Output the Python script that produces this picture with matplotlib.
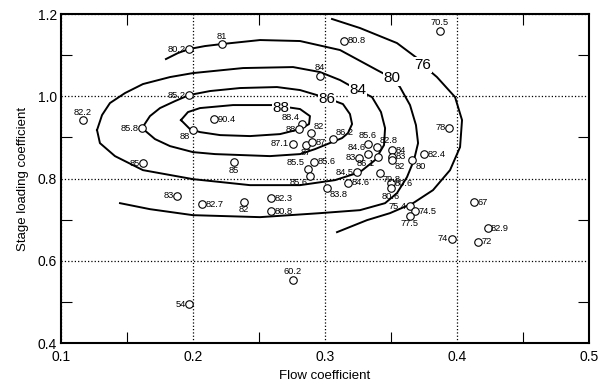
import numpy as np
import matplotlib
matplotlib.use('Agg')
import matplotlib.pyplot as plt
from matplotlib.ticker import MultipleLocator

plt.rcParams['font.family'] = ['Liberation Sans', 'DejaVu Sans']

# measured stage data: flow coefficient, stage loading coefficient, efficiency
flow = [0.1164, 0.197, 0.222, 0.296, 0.197, 0.216, 0.1616, 0.1998, 0.1624, 0.231,
        0.188, 0.2066, 0.2386, 0.259, 0.259, 0.2826, 0.2803, 0.2894, 0.3063, 0.2755,
        0.2856, 0.2899, 0.2869, 0.2919, 0.2886, 0.3245, 0.3177, 0.3013, 0.3323, 0.3328,
        0.3258, 0.3396, 0.340, 0.3417, 0.3505, 0.3505, 0.3508, 0.3662, 0.375, 0.394,
        0.3498, 0.3498, 0.3644, 0.3682, 0.3644, 0.396, 0.3146, 0.387, 0.4131, 0.4232,
        0.4157, 0.2755, 0.1972]
loading = [0.942, 1.114, 1.127, 1.050, 1.003, 0.944, 0.922, 0.918, 0.837, 0.839,
           0.758, 0.737, 0.743, 0.752, 0.721, 0.932, 0.920, 0.910, 0.895, 0.885,
           0.882, 0.888, 0.822, 0.841, 0.806, 0.815, 0.790, 0.776, 0.885, 0.859,
           0.851, 0.877, 0.853, 0.814, 0.869, 0.853, 0.845, 0.845, 0.859, 0.924,
           0.788, 0.776, 0.733, 0.721, 0.709, 0.653, 1.135, 1.159, 0.742, 0.679,
           0.646, 0.554, 0.494]
eff = ['82.2', '80.2', '81', '84', '85.2', '90.4', '85.8', '88', '85', '85',
       '83', '82.7', '82', '82.3', '80.8', '88.4', '88', '82', '86.2', '87.1',
       '87', '87', '85.5', '85.6', '85.6', '84.5', '84.6', '83.8', '85.6', '84.6',
       '83', '82.8', '86.1', '79.8', '84', '83', '82', '80', '82.4', '78',
       '80.6', '80.6', '75.4', '74.5', '77.5', '74', '80.8', '70.5', '67', '82.9',
       '72', '60.2', '54']
# where each label sits relative to its circle
where = ['a', 'l', 'a', 'a', 'l', 'r', 'l', 'bl', 'l', 'b',
         'l', 'r', 'b', 'r', 'r', 'al', 'l', 'ar', 'ar', 'l',
         'b', 'r', 'al', 'r', 'bl', 'l', 'r', 'br', 'a', 'al',
         'l', 'ar', 'bl', 'br', 'r', 'r', 'br', 'br', 'r', 'l',
         'r', 'b', 'l', 'r', 'b', 'l', 'r', 'a', 'r', 'r',
         'r', 'a', 'l']

c88_x = [0.1909, 0.1962, 0.2053, 0.2303, 0.2606, 0.2811, 0.2886, 0.2879, 0.2811,
         0.2659, 0.2432, 0.2205, 0.2053, 0.1977, 0.1909]
c88_y = [0.9421, 0.9616, 0.9713, 0.9786, 0.9786, 0.9689, 0.9518, 0.9324, 0.9202,
         0.9080, 0.9032, 0.9056, 0.9129, 0.9202, 0.9421]
c86_x = [0.1614, 0.1674, 0.1750, 0.1864, 0.1970, 0.2129, 0.2356, 0.2636, 0.2811,
         0.3015, 0.3136, 0.3189, 0.3205, 0.3174, 0.3129, 0.2924, 0.2811, 0.2583,
         0.2379, 0.2167, 0.2000, 0.1826, 0.1712, 0.1614]
c86_y = [0.9226, 0.9518, 0.9713, 0.9883, 1.0029, 1.0127, 1.0200, 1.0224, 1.0151,
         0.9956, 0.9810, 0.9567, 0.9324, 0.9105, 0.8983, 0.8715, 0.8594, 0.8545,
         0.8569, 0.8594, 0.8642, 0.8788, 0.8959, 0.9226]
c84_x = [0.1273, 0.1311, 0.1371, 0.1485, 0.1621, 0.1826, 0.2000, 0.2379, 0.2758,
         0.2962, 0.3114, 0.3250, 0.3356, 0.3424, 0.3455, 0.3447, 0.3379, 0.3265,
         0.3076, 0.2811, 0.2432, 0.2000, 0.1621, 0.1409, 0.1295, 0.1273]
c84_y = [0.9178, 0.9543, 0.9835, 1.0078, 1.0297, 1.0467, 1.0564, 1.0686, 1.0710,
         1.0589, 1.0394, 1.0151, 0.9981, 0.9616, 0.9226, 0.8813, 0.8448, 0.8156,
         0.7961, 0.7839, 0.7839, 0.7985, 0.8204, 0.8545, 0.8861, 0.9178]
c80_x = [0.1795, 0.1886, 0.1970, 0.2091, 0.2220, 0.2508, 0.2811, 0.3114, 0.3394,
         0.3508, 0.3568, 0.3644, 0.3689, 0.3705, 0.3674, 0.3621, 0.3545, 0.3455,
         0.3265, 0.2962, 0.2508, 0.2000, 0.1674, 0.1447]
c80_y = [1.0905, 1.1051, 1.1148, 1.1221, 1.1270, 1.1367, 1.1343, 1.1124, 1.0637,
         1.0443, 1.0224, 0.9786, 0.9299, 0.8861, 0.8448, 0.8034, 0.7645, 0.7401,
         0.7231, 0.7158, 0.7061, 0.7109, 0.7255, 0.7401]
c76_x = [0.3053, 0.3265, 0.3545, 0.3697, 0.3742, 0.3848, 0.3985, 0.4038, 0.4023,
         0.3947, 0.3818, 0.3667, 0.3492, 0.3318, 0.3091]
c76_y = [1.1879, 1.1659, 1.1294, 1.0929, 1.0759, 1.0467, 0.9981, 0.9421, 0.8764,
         0.8204, 0.7718, 0.7401, 0.7158, 0.6988, 0.6696]
contour_levels = ['88', '86', '84', '80', '76']
contour_x = [c88_x, c86_x, c84_x, c80_x, c76_x]
contour_y = [c88_y, c86_y, c84_y, c80_y, c76_y]
# label spots on each contour line
clabel_x = [0.2667, 0.3015, 0.3250, 0.3508, 0.3742]
clabel_y = [0.9713, 0.9932, 1.0151, 1.0443, 1.0759]

fig = plt.figure(figsize=(6.05, 3.85), dpi=100)
ax = fig.add_axes([0.1008, 0.109, 0.8728, 0.8546])

for cx, cy in zip(contour_x, contour_y):
    ax.plot(cx, cy, color='black', linewidth=1.4, zorder=2)
for lx, ly, lv in zip(clabel_x, clabel_y, contour_levels):
    ax.text(lx, ly, lv, fontsize=11, ha='center', va='center', zorder=3,
            bbox=dict(facecolor='white', edgecolor='none', pad=0.5))

ax.plot(flow, loading, linestyle='none', marker='o', markersize=5.4,
        markerfacecolor='white', markeredgecolor='black', markeredgewidth=0.8, zorder=4)

offs = {'l': (-2.5, 0, 'right', 'center'), 'r': (2.5, 0, 'left', 'center'),
        'a': (0, 2.5, 'center', 'bottom'), 'b': (0, -2.5, 'center', 'top'),
        'al': (-2, 1.5, 'right', 'bottom'), 'ar': (2, 1.5, 'left', 'bottom'),
        'bl': (-2, -1.5, 'right', 'top'), 'br': (2, -1.5, 'left', 'top')}
for px, py, t, w in zip(flow, loading, eff, where):
    dx, dy, ha, va = offs[w]
    ax.annotate(t, (px, py), xytext=(dx, dy), textcoords='offset points',
                fontsize=6.7, ha=ha, va=va, zorder=5)

ax.set_xlim(0.1, 0.5)
ax.set_ylim(0.4, 1.2)
ax.set_xticks([0.1, 0.2, 0.3, 0.4, 0.5])
ax.set_xticklabels(['0.1', '0.2', '0.3', '0.4', '0.5'], fontsize=10)
ax.set_yticks([0.4, 0.6, 0.8, 1.0, 1.2])
ax.set_yticklabels(['0.4', '0.6', '0.8', '1.0', '1.2'], fontsize=10)
ax.xaxis.set_minor_locator(MultipleLocator(0.05))
ax.yaxis.set_minor_locator(MultipleLocator(0.1))
ax.tick_params(which='major', length=0)
ax.tick_params(axis='x', which='major', pad=5)
ax.tick_params(axis='y', which='major', pad=3)
ax.tick_params(which='minor', direction='in', length=8, width=0.8,
               top=True, right=True)
ax.grid(True, which='major', linestyle=':', color='black', linewidth=0.9)
for s in ax.spines.values():
    s.set_linewidth(1.5)
ax.set_xlabel('Flow coefficient', fontsize=9.5, labelpad=4)
ax.set_ylabel('Stage loading coefficient', fontsize=9.5, labelpad=6)

plt.savefig('out.png', dpi=100)
